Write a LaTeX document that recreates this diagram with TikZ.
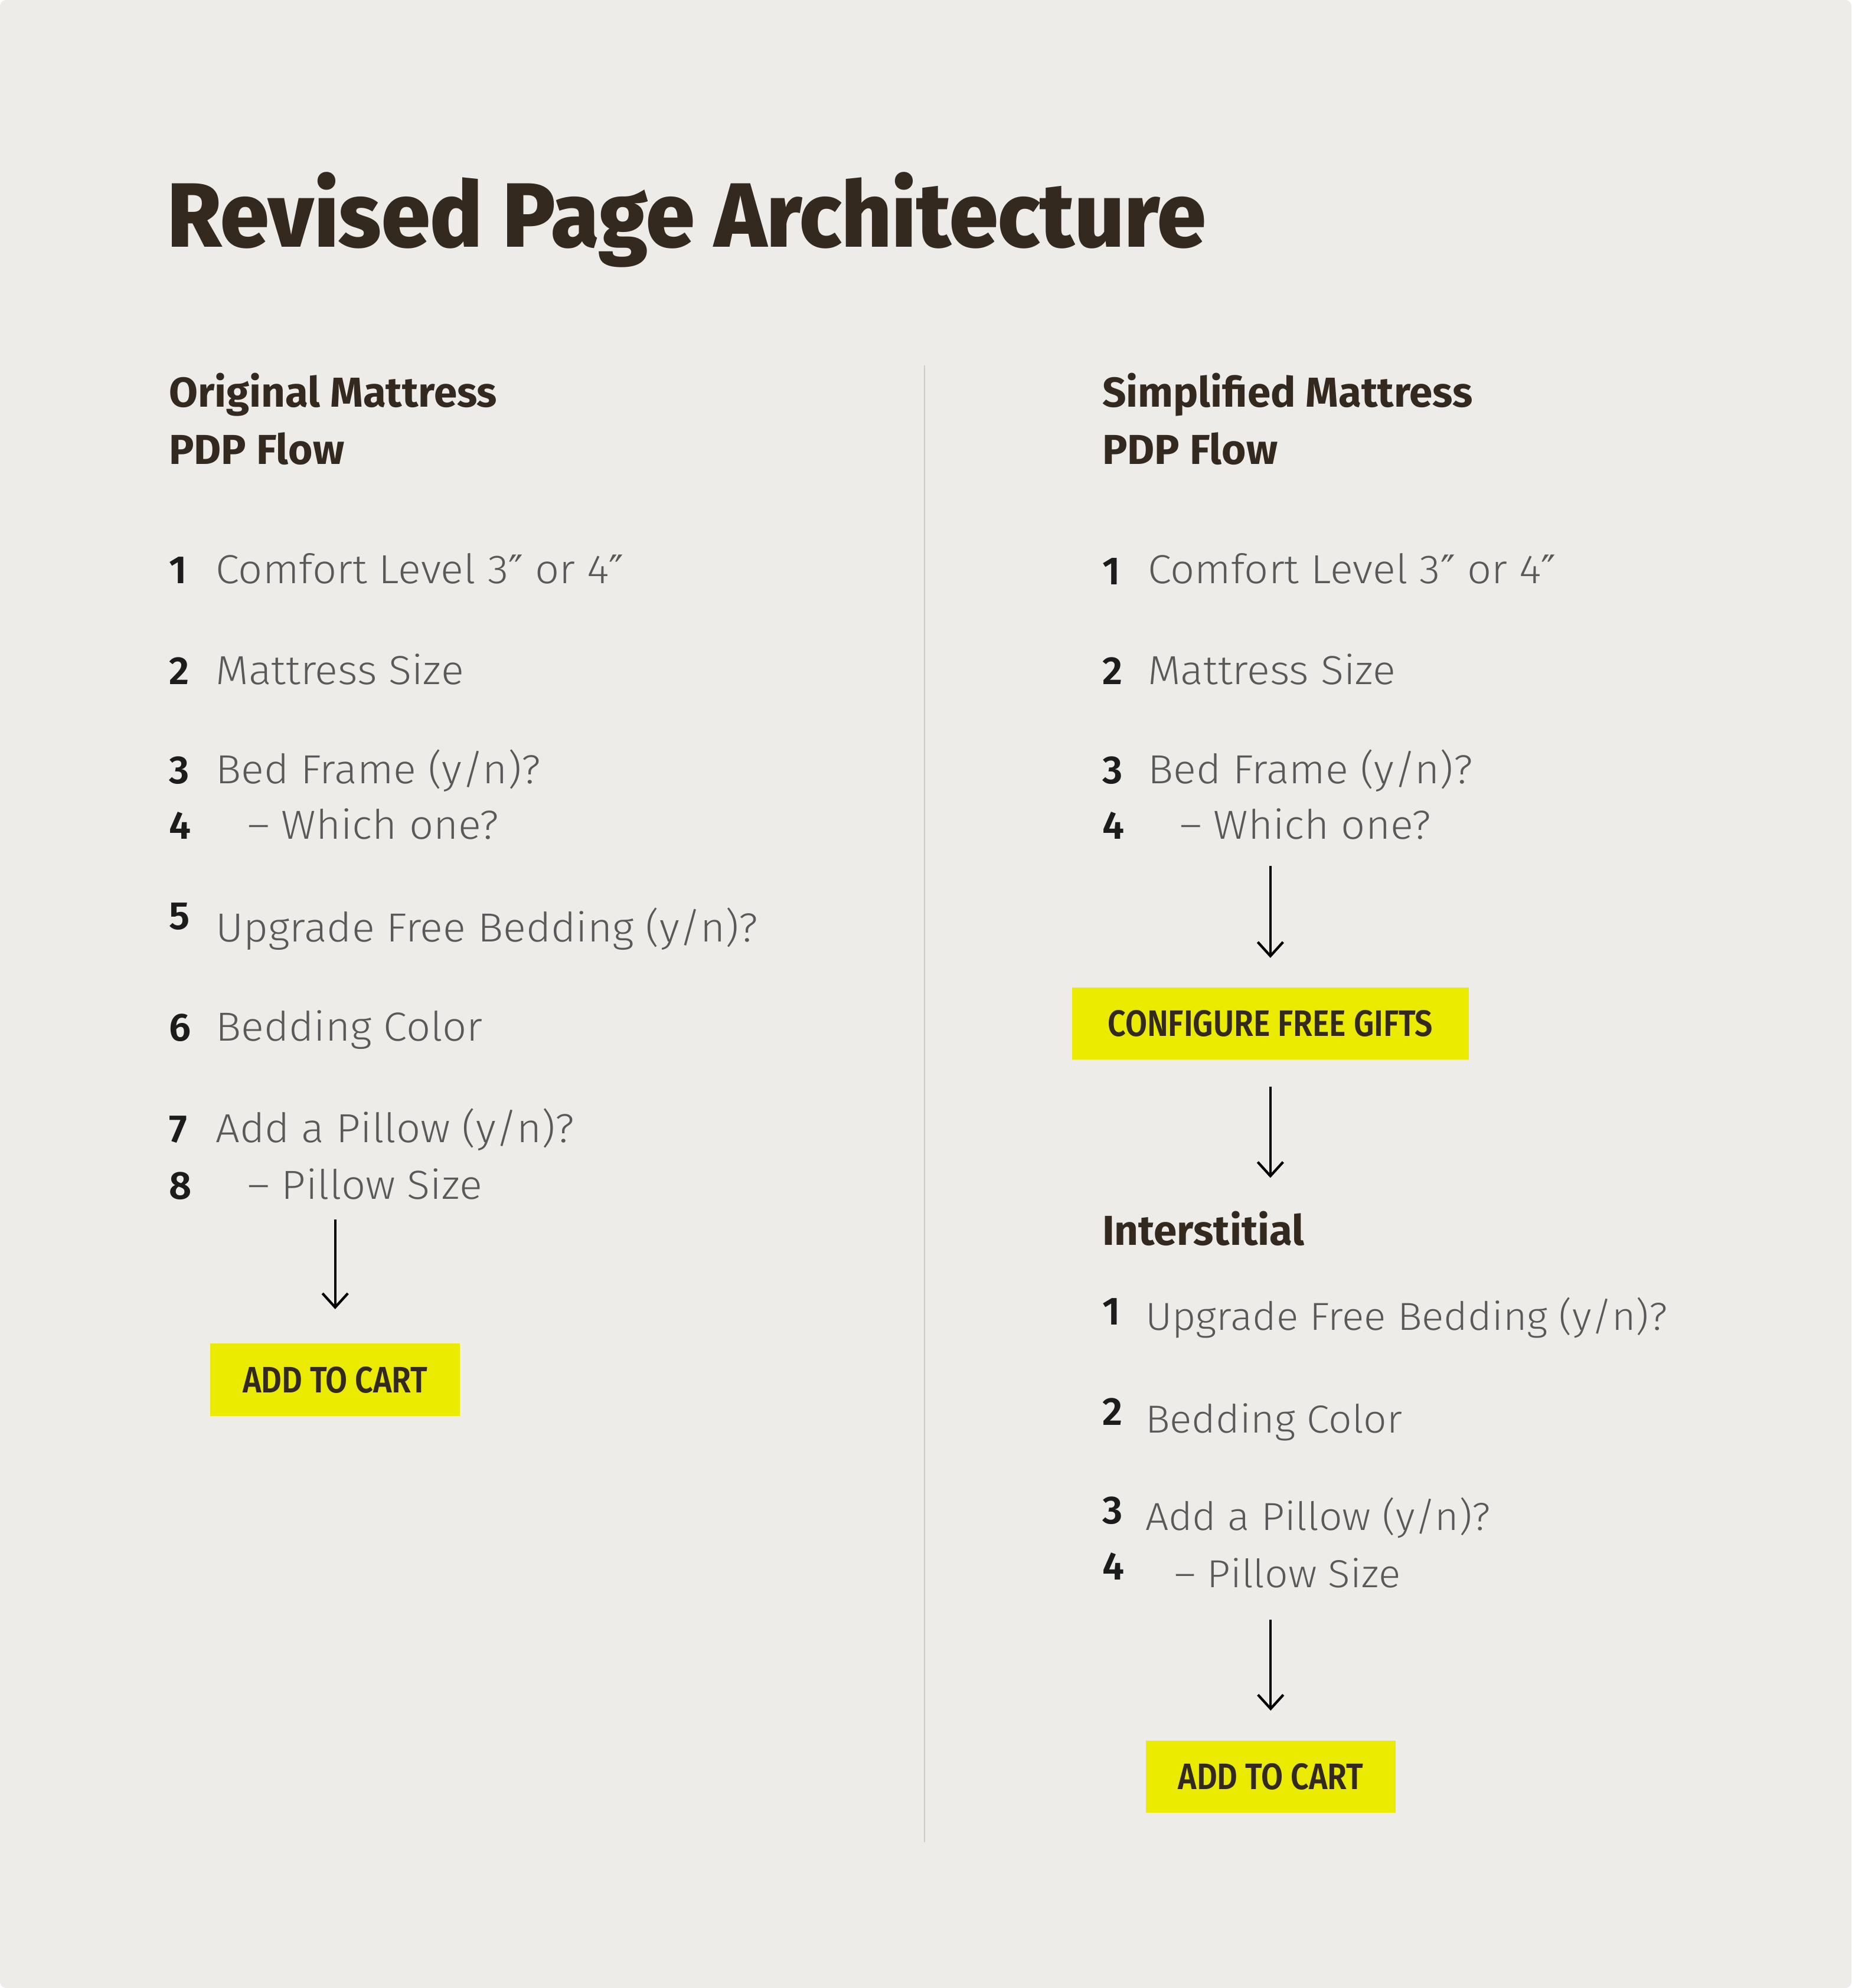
\documentclass[tikz,border=0pt]{standalone}
\usepackage{fontspec}
\usepackage{xcolor}
\usepackage{tikz}
\usetikzlibrary{arrows.meta,positioning}
\newfontfamily\titlefont{Fira Sans ExtraBold}[FakeStretch=0.96]
\newfontfamily\headfont{Fira Sans Bold}
\newfontfamily\itemfont{Fira Sans Light}[FakeStretch=1.05]
\newfontfamily\numfont{Fira Sans SemiBold}
\newfontfamily\ctafont{Fira Sans SemiBold}[FakeStretch=0.86]
\newfontfamily\primefont{DejaVu Sans}
\newcommand\dprime{{\primefont\fontsize{31}{38}\selectfont ″}}
\definecolor{pagebg}{HTML}{EDECE8}
\definecolor{inkdark}{HTML}{33291F}
\definecolor{inkgrey}{HTML}{595959}
\definecolor{numink}{HTML}{1C1C1C}
\definecolor{ctayellow}{HTML}{EBEB00}
\definecolor{rulegrey}{HTML}{CDCCC8}
\tikzset{
  title/.style={anchor=base west,inner sep=0pt,text=inkdark,font=\titlefont\fontsize{72}{80}\selectfont},
  head/.style={anchor=base west,inner sep=0pt,text=inkdark,align=left,font=\headfont\fontsize{33}{45}\selectfont},
  item/.style={anchor=base west,inner sep=0pt,text=inkgrey,font=\itemfont\fontsize{32}{38}\selectfont},
  subitem/.style={item,font=\itemfont\fontsize{30.8}{38}\selectfont},
  num/.style={anchor=base west,inner sep=0pt,text=numink,font=\numfont\fontsize{31}{38}\selectfont},
  cta/.style={fill=ctayellow,text=inkdark,inner sep=0pt,minimum height=57pt,text height=20pt,text depth=0pt,font=\ctafont\fontsize{29}{30}\selectfont},
  flow/.style={-{Straight Barb[length=11pt,width=20pt]},line width=2pt,black}
}
\begin{document}
\begin{tikzpicture}[x=1pt,y=-1pt]
\fill [white] (0,0) rectangle (1460,1568);
\fill [pagebg,rounded corners=5pt] (0,0) rectangle (1460,1568);
\useasboundingbox (0,0) rectangle (1460,1568);
\node [title] (title) at (132,195) {Revised Page Architecture};
\draw [rulegrey,line width=1.2pt] (729,288) -- (729,1453);
% original flow
\node [head] (lhead) at (133,366) {Original Mattress\\PDP Flow};
\node [num] (lnum1) at (133,460) {1};
\node [item] (litem1) at (170,460) {Comfort Level 3\dprime{} or 4\dprime};
\node [num] (lnum2) at (133,540) {2};
\node [item] (litem2) at (170,540) {Mattress Size};
\node [num] (lnum3) at (133,618) {3};
\node [item] (litem3) at (170,618) {Bed Frame (y/n)?};
\node [num] (lnum4) at (133,662) {4};
\node [item] (litem4) at (195,662) {– Which one?};
\node [num] (lnum5) at (133,733) {5};
\node [item] (litem5) at (170,743) {Upgrade Free Bedding (y/n)?};
\node [num] (lnum6) at (133,821) {6};
\node [item] (litem6) at (170,821) {Bedding Color};
\node [num] (lnum7) at (133,901) {7};
\node [item] (litem7) at (170,901) {Add a Pillow (y/n)?};
\node [num] (lnum8) at (133,946) {8};
\node [item] (litem8) at (195,946) {– Pillow Size};
\node [cta,minimum width=197pt] (lcart) at (264.3,1088.3) {ADD TO CART};
\draw [flow,shorten <=16pt,shorten >=27pt] (lcart.north |- litem8.base) -- (lcart.north);
% simplified flow
\node [head] (rhead) at (869,366) {Simplified Mattress\\PDP Flow};
\node [num] (rnum1) at (869,461) {1};
\node [item] (ritem1) at (905,460) {Comfort Level 3\dprime{} or 4\dprime};
\node [num] (rnum2) at (869,540) {2};
\node [item] (ritem2) at (905,540) {Mattress Size};
\node [num] (rnum3) at (869,618) {3};
\node [item] (ritem3) at (905,618) {Bed Frame (y/n)?};
\node [num] (rnum4) at (869,662) {4};
\node [item] (ritem4) at (930,662) {– Which one?};
\node [cta,minimum width=313pt] (rgifts) at (1001.8,807.2) {CONFIGURE FREE GIFTS};
\draw [flow,shorten <=21pt,shorten >=23pt] (rgifts.north |- ritem4.base) -- (rgifts.north);
% interstitial
\node [head] (rint) at (869,982) {Interstitial};
\draw [flow,shorten <=21pt,shorten >=53pt] (rgifts.south) -- (rgifts.south |- rint.base);
\node [num] (inum1) at (869,1045) {1};
\node [subitem] (iitem1) at (903,1049) {Upgrade Free Bedding (y/n)?};
\node [num] (inum2) at (869,1124) {2};
\node [subitem] (iitem2) at (903,1130) {Bedding Color};
\node [num] (inum3) at (869,1202) {3};
\node [subitem] (iitem3) at (903,1207) {Add a Pillow (y/n)?};
\node [num] (inum4) at (869,1246) {4};
\node [subitem] (iitem4) at (926,1252) {– Pillow Size};
\node [cta,minimum width=197pt] (rcart) at (1002,1401.3) {ADD TO CART};
\draw [flow,shorten <=25.5pt,shorten >=23.4pt] (rcart.north |- iitem4.base) -- (rcart.north);
\end{tikzpicture}
\end{document}
